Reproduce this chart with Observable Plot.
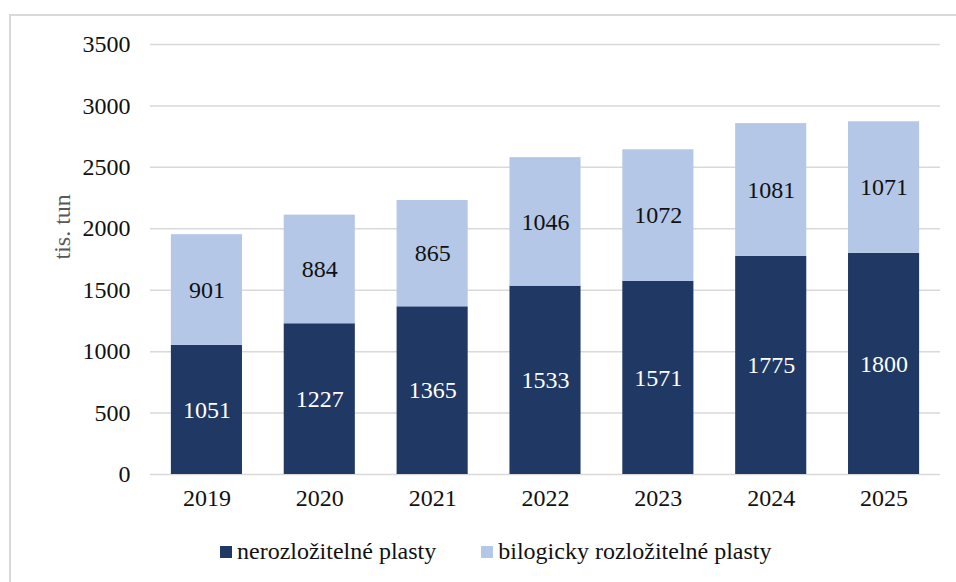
<!DOCTYPE html>
<html>
<head>
<meta charset="utf-8">
<script src="https://cdn.jsdelivr.net/npm/d3@7"></script>
<script src="https://cdn.jsdelivr.net/npm/@observablehq/plot@0.6"></script>
<style>
  html, body { margin: 0; padding: 0; background: #fff; }
  body { width: 956px; height: 582px; position: relative; overflow: hidden; font-family: 'Liberation Serif', 'Times New Roman', serif; }
  #frame { position: absolute; left: 9px; top: 14px; width: 1000px; height: 600px; border-left: 2px solid #d9d9d9; border-top: 2px solid #d9d9d9; box-sizing: border-box; pointer-events: none; }
  #chart { position: absolute; left: 0; top: 0; }
  #legend { position: absolute; left: 220px; top: 538px; display: flex; align-items: center; font-size: 24px; color: #111; white-space: nowrap; }
  .item { display: flex; align-items: center; margin-right: 45px; }
  .sw { width: 12px; height: 12px; margin-right: 5px; }
</style>
</head>
<body>
<div id="frame"></div>
<div id="chart"></div>
<div id="legend"></div>
<script>
const years = ["2019", "2020", "2021", "2022", "2023", "2024", "2025"];
const nerozlozitelne = [1051, 1227, 1365, 1533, 1571, 1775, 1800];
const bio = [901, 884, 865, 1046, 1072, 1081, 1071];
const seriesNames = ["nerozložitelné plasty", "bilogicky rozložitelné plasty"];
const colors = ["#203864", "#b4c7e7"];
const yTicks = [0, 500, 1000, 1500, 2000, 2500, 3000, 3500];

const data = [];
years.forEach((y, i) => {
  data.push({year: y, series: seriesNames[0], value: nerozlozitelne[i]});
  data.push({year: y, series: seriesNames[1], value: bio[i]});
});

const font = "'Liberation Serif', 'Times New Roman', serif";

const chart = Plot.plot({
  width: 956,
  height: 520,
  marginTop: 44,
  marginBottom: 46,
  marginLeft: 150,
  marginRight: 16,
  style: {fontFamily: font, fontSize: "24px", color: "#111", background: "transparent"},
  x: {domain: years, paddingInner: 0.37, paddingOuter: 0.185, round: false, label: null},
  y: {domain: [0, 3500], ticks: yTicks, label: null},
  color: {domain: seriesNames, range: colors},
  marks: [
    Plot.ruleY(yTicks, {stroke: "#d9d9d9", strokeWidth: 1.5}),
    Plot.barY(data, Plot.stackY({x: "year", y: "value", fill: "series", order: null})),
    Plot.text(data, Plot.stackY({x: "year", y: "value", order: null,
      text: d => d.series === seriesNames[0] ? String(d.value) : null,
      fill: "white", fontSize: 24, fontFamily: font})),
    Plot.text(data, Plot.stackY({x: "year", y: "value", order: null,
      text: d => d.series === seriesNames[1] ? String(d.value) : null,
      fill: "#111", fontSize: 24, fontFamily: font})),
    Plot.axisX({tickSize: 0, tickPadding: 14, fontSize: 24, fontFamily: font, label: null}),
    Plot.axisY({ticks: yTicks, tickFormat: d => String(d), tickSize: 0, tickPadding: 20, fontSize: 24, fontFamily: font, label: null}),
    Plot.text(["tis. tun"], {frameAnchor: "left", rotate: -90, dx: -88, fill: "#595959", fontSize: 24, fontFamily: font})
  ]
});
document.getElementById("chart").appendChild(chart);

const legend = document.getElementById("legend");
seriesNames.forEach((s, i) => {
  const it = document.createElement("div");
  it.className = "item";
  const sw = document.createElement("div");
  sw.className = "sw";
  sw.style.background = colors[i];
  const t = document.createElement("span");
  t.textContent = s;
  it.appendChild(sw);
  it.appendChild(t);
  legend.appendChild(it);
});
</script>
</body>
</html>
